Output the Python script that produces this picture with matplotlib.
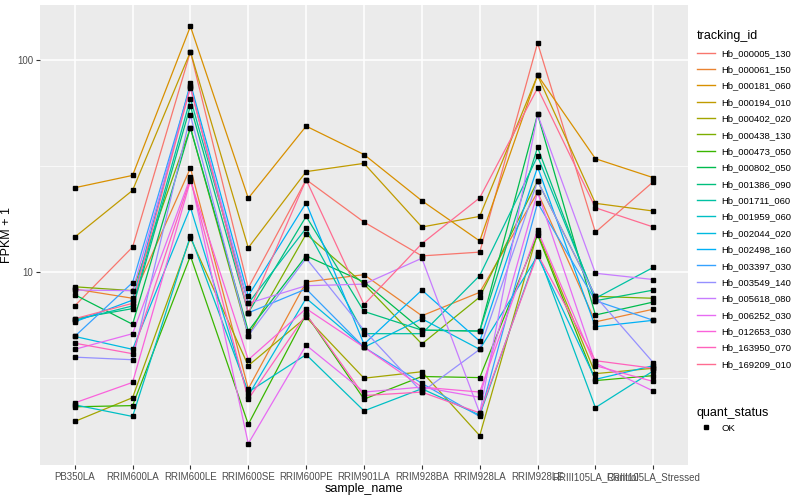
import matplotlib
matplotlib.use('Agg')
import matplotlib.pyplot as plt
from matplotlib.lines import Line2D
from matplotlib.ticker import FixedLocator, NullFormatter

plt.rcParams['font.family'] = ['Liberation Sans', 'DejaVu Sans']

samples = ['PB350LA', 'RRIM600LA', 'RRIM600LE', 'RRIM600SE', 'RRIM600PE', 'RRIM901LA',
           'RRIM928BA', 'RRIM928LA', 'RRIM928LE', 'RRIII105LA_Control', 'RRIII105LA_Stressed']

tracking_ids = ['Hb_000005_130', 'Hb_000061_150', 'Hb_000181_060', 'Hb_000194_010',
                'Hb_000402_020', 'Hb_000438_130', 'Hb_000473_050', 'Hb_000802_050',
                'Hb_001386_090', 'Hb_001711_060', 'Hb_001959_060', 'Hb_002044_020',
                'Hb_002498_160', 'Hb_003397_030', 'Hb_003549_140', 'Hb_005618_080',
                'Hb_006252_030', 'Hb_012653_030', 'Hb_163950_070', 'Hb_169209_010']

# ggplot hue palette, 20 levels
colors = ['#F8766D', '#EA8331', '#D89000', '#C09B00', '#A3A500', '#7CAE00', '#39B600',
          '#00BB4E', '#00BF7D', '#00C1A3', '#00BFC4', '#00BAE0', '#00B0F6', '#35A2FF',
          '#9590FF', '#C77CFF', '#E76BF3', '#FA62DB', '#FF62BC', '#FF6C91']

# FPKM + 1, one row per tracking_id, one column per sample
fpkm = [
    [6.9, 13.1, 110, 8.4, 27.3, 17.2, 11.9, 12.4, 121, 15.4, 26.7],
    [8.3, 7.5, 31, 2.8, 8.96, 9.7, 6.2, 8.0, 23.8, 5.8, 6.66],
    [25, 28.6, 145, 22.3, 48.9, 35.9, 21.7, 14.0, 85.3, 34.3, 27.9],
    [14.6, 24.3, 110, 13.0, 29.8, 32.6, 16.3, 18.3, 85, 21.1, 19.4],
    [1.96, 2.54, 14.5, 3.6, 6.1, 3.14, 3.37, 1.68, 15.3, 3.3, 3.5],
    [8.5, 8.15, 48, 5.0, 15.1, 8.75, 4.56, 7.6, 26.9, 7.66, 7.5],
    [2.3, 2.33, 11.9, 1.9, 6.3, 2.5, 3.2, 3.16, 15.0, 3.06, 3.23],
    [7.8, 5.65, 48, 5.25, 11.9, 8.96, 5.3, 5.25, 55.6, 6.25, 7.2],
    [6.0, 6.7, 61, 6.4, 18.3, 6.5, 5.3, 5.25, 38.8, 7.3, 8.2],
    [5.9, 6.9, 66, 7.1, 16.1, 5.1, 5.1, 9.6, 35.2, 7.5, 10.5],
    [2.35, 2.07, 14.8, 2.7, 4.06, 2.2, 2.8, 2.1, 12.4, 2.28, 3.4],
    [4.95, 4.3, 20.2, 2.6, 7.5, 4.4, 6.0, 4.3, 11.9, 3.1, 3.6],
    [5.8, 7.35, 78, 7.7, 21.2, 4.55, 8.2, 4.7, 31.3, 5.5, 5.9],
    [4.95, 8.9, 76, 6.4, 8.3, 4.4, 2.97, 2.07, 21.2, 7.3, 5.9],
    [3.95, 3.84, 55, 5.0, 11.6, 5.3, 2.7, 4.3, 26.9, 7.66, 3.72],
    [8.2, 8.15, 74, 7.1, 8.6, 8.75, 11.6, 2.15, 55.6, 9.85, 9.2],
    [4.3, 5.1, 28, 1.54, 4.5, 2.7, 2.85, 2.55, 23.8, 3.7, 2.73],
    [2.4, 3.0, 27, 3.84, 6.7, 4.4, 2.85, 2.7, 15.7, 3.6, 3.03],
    [4.6, 4.1, 27.5, 2.5, 6.3, 2.6, 2.7, 2.15, 12.1, 3.8, 3.5],
    [6.0, 7.1, 75, 6.4, 27.3, 7.0, 13.6, 22.4, 74, 20.1, 16.3],
]

fig = plt.figure(figsize=(8, 5), dpi=100)
ax = fig.add_axes([0.05, 0.07, 0.81, 0.92])
ax.set_facecolor('#EBEBEB')

x = list(range(len(samples)))
for vals, c in zip(fpkm, colors):
    ax.plot(x, vals, color=c, lw=0.9, zorder=2)
for vals in fpkm:
    ax.plot(x, vals, ls='none', marker='s', ms=2.4, color='black', zorder=3)

ax.set_yscale('log')
ax.set_ylim(1.22, 183)
ax.set_xlim(-0.6, len(samples) - 0.4)
ax.yaxis.set_major_locator(FixedLocator([10, 100]))
ax.set_yticklabels(['10', '100'])
ax.yaxis.set_minor_locator(FixedLocator([10 ** 0.5, 10 ** 1.5]))
ax.yaxis.set_minor_formatter(NullFormatter())
ax.set_xticks(x)
ax.set_xticklabels(samples)

ax.grid(which='major', color='white', lw=1.1, zorder=0)
ax.grid(which='minor', axis='y', color='white', lw=0.5, zorder=0)
ax.set_axisbelow(True)
for s in ax.spines.values():
    s.set_visible(False)
ax.tick_params(which='major', length=3, color='#333333', labelsize=7, labelcolor='#4D4D4D', pad=2)
ax.tick_params(which='minor', length=0)

ax.set_xlabel('sample_name', fontsize=9, labelpad=1)
ax.set_ylabel('FPKM + 1', fontsize=9, labelpad=3)

# legends
handles = [Line2D([], [], color=c, lw=1) for c in colors]
leg1 = ax.legend(handles, tracking_ids, title='tracking_id', loc='upper left',
                 bbox_to_anchor=(1.0, 0.965), frameon=False, fontsize=6.8,
                 title_fontsize=9, handlelength=2.0, labelspacing=0.78,
                 borderaxespad=0.5, handletextpad=0.6)
leg1._legend_box.align = 'left'
ax.add_artist(leg1)

ok = [Line2D([], [], ls='none', marker='s', ms=2.4, color='black')]
leg2 = ax.legend(ok, ['OK'], title='quant_status', loc='upper left',
                 bbox_to_anchor=(1.0, 0.145), frameon=False, fontsize=6.8,
                 title_fontsize=9, handlelength=2.0, borderaxespad=0.5,
                 handletextpad=0.6)
leg2._legend_box.align = 'left'

fig.savefig('out.png', dpi=100)
